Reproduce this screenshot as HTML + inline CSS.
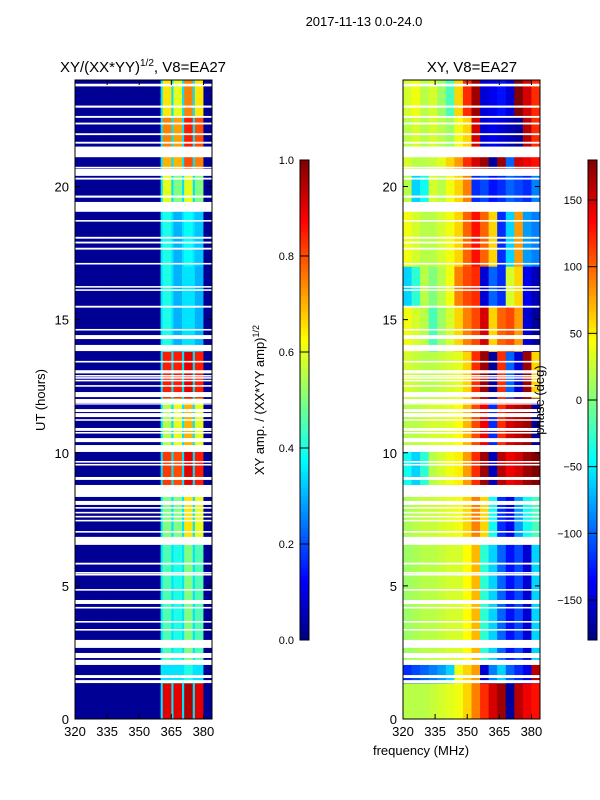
<!DOCTYPE html>
<html><head><meta charset="utf-8">
<style>
html,body{margin:0;padding:0;background:#fff;}
svg{display:block;font-family:"Liberation Sans","DejaVu Sans",sans-serif;}
</style></head>
<body>
<svg id="fig" width="600" height="800" viewBox="0 0 600 800">
  <text x="364" y="26" font-size="13" text-anchor="middle">2017-11-13 0.0-24.0</text>
  <text x="143" y="72" font-size="15" text-anchor="middle">XY/(XX*YY)<tspan font-size="10" dy="-6">1/2</tspan><tspan dy="6">, V8=EA27</tspan></text>
  <text x="472" y="72" font-size="15" text-anchor="middle">XY, V8=EA27</text>
  <text transform="translate(45,400) rotate(-90)" font-size="13" text-anchor="middle">UT (hours)</text>
  <text x="421" y="755" font-size="13" text-anchor="middle">frequency (MHz)</text>
  <text transform="translate(264,400) rotate(-90)" font-size="13" text-anchor="middle">XY amp. / (XX*YY amp)<tspan font-size="9" dy="-5">1/2</tspan></text>
  <g id="left"></g>
  <g id="right"></g>
  <g id="axes"></g>
  <text transform="translate(544,400) rotate(-90)" font-size="13" text-anchor="middle">phase (deg)</text>
</svg>
<script>
// ---- data ----
const freqTicks = [320, 335, 350, 365, 380];
const timeTicks = [0, 5, 10, 15, 20];
// flagged (blank) time intervals, hours [start, end]
const flagStart = [23.76,22.96,22.58,22.33,21.93,21.61,21.1,20.68,20.4,20.26,19.58,19.05,18.68,18.04,17.86,17.63,17.07,16.2,16.08,15.45,14.59,14.27,13.82,13.39,12.98,12.86,12.78,12.68,12.48,12.09,11.87,11.81,11.53,11.34,11.2,10.82,10.72,10.4,10.03,9.63,9.52,8.98,8.34,8.04,7.9,7.72,7.57,7.42,7.0,6.54,5.8,5.46,5.39,4.82,4.32,4.15,3.62,3.32,2.67,2.29,2.03,1.54,1.35];
const flagEnd   = [23.86,23.04,22.65,22.4,22.0,21.68,21.5,20.74,20.66,20.33,19.66,19.42,18.74,18.11,17.93,17.7,17.13,16.26,16.14,15.52,14.65,14.42,14.05,13.45,13.1,12.92,12.84,12.74,12.54,12.28,12.02,11.86,11.64,11.49,11.26,10.93,10.78,10.55,10.29,9.69,9.58,9.09,8.79,8.19,7.96,7.78,7.63,7.48,7.06,6.84,5.87,5.52,5.45,4.88,4.47,4.21,3.68,3.38,2.97,2.48,2.22,1.65,1.46];
// time segments (hours) shared by both panels
const segStart = [0,1.35,2.2,6.7,8.5,10.2,12.05,13.8,15.5,17.0,19.2,20.5,21.3,22.6];
const segEnd   = [1.35,2.2,6.7,8.5,10.2,12.05,13.8,15.5,17.0,19.2,20.5,21.3,22.6,24];
// amplitude levels for the four active sub-bands per segment
const ampBand0 = [0.9,0.35,0.45,0.5,0.82,0.55,0.85,0.4,0.4,0.4,0.6,0.7,0.75,0.65];
const ampBand1 = [0.9,0.35,0.4,0.5,0.8,0.6,0.85,0.3,0.3,0.3,0.5,0.7,0.72,0.6];
const ampBand2 = [0.95,0.4,0.5,0.65,0.9,0.7,0.9,0.35,0.35,0.38,0.6,0.8,0.85,0.75];
const ampBand3 = [0.9,0.35,0.45,0.6,0.85,0.6,0.85,0.3,0.3,0.32,0.5,0.75,0.8,0.65];
const ampBackground = 0.02;
const ampSeparator = 0.35;
// channel map (1 MHz channels 320..383): -1 background, 0-3 band, 9 separator
const chanBand = [
 -1,-1,-1,-1,-1,-1,-1,-1,-1,-1,-1,-1,-1,-1,-1,-1,-1,-1,-1,-1,
 -1,-1,-1,-1,-1,-1,-1,-1,-1,-1,-1,-1,-1,-1,-1,-1,-1,-1,-1,-1,
 9,0,0,0,0,9,1,1,1,1,9,2,2,2,2,9,3,3,3,3,-1,-1,-1,-1];
// phase (deg) per segment, 16 channels of 4 MHz from 320 MHz
const phaseRows = [
 [20,20,20,25,30,35,40,60,90,120,150,170,-170,160,140,130],
 [-120,-110,-100,-90,-80,-60,40,60,80,-150,-90,-60,-100,-120,-140,160],
 [10,15,20,20,25,30,30,45,70,-30,-60,-100,-130,-110,-150,-60],
 [15,20,25,25,30,35,40,60,90,60,-40,-120,-140,-80,-40,-20],
 [-40,-60,-30,20,30,40,50,80,120,170,-160,160,140,150,170,180],
 [20,20,25,30,30,35,45,70,110,140,-120,120,150,160,170,-170],
 [30,25,20,20,25,30,35,60,120,170,-170,120,-100,-150,170,60],
 [40,30,20,-20,10,30,60,90,110,150,60,100,110,80,-150,-170],
 [-60,-30,20,0,20,40,90,110,120,-150,-100,-120,30,60,-140,-160],
 [40,30,20,20,30,40,60,100,130,100,60,-120,-60,80,-80,-90],
 [20,-60,-40,30,20,40,60,90,-120,-110,-130,-120,-100,-110,-120,-90],
 [30,20,20,25,35,60,80,120,150,170,-170,170,-100,150,140,130],
 [20,30,20,30,20,10,40,60,150,-150,-140,-150,-160,-170,160,120],
 [30,40,20,30,10,-20,60,120,170,-150,-140,-130,-150,180,150,120]];
const ampTicks = [0.0,0.2,0.4,0.6,0.8,1.0];
const phaseTicks = [-150,-100,-50,0,50,100,150];

// ---- geometry ----
const NS='http://www.w3.org/2000/svg';
const PY0=80, PY1=719;
const LX0=75, RX0=403, PW=137;
function xs(f,x0){return x0+(f-320)/64*PW;}
function ys(h){return PY1-(h/24)*(PY1-PY0);}
function jet(v){v=Math.max(0,Math.min(1,v));
 const c=t=>Math.round(255*Math.max(0,Math.min(1,1.5-Math.abs(4*v-t))));
 return `rgb(${c(3)},${c(2)},${c(1)})`;}
function mk(tag,attrs,parent){const e=document.createElementNS(NS,tag);for(const k in attrs)e.setAttribute(k,attrs[k]);parent.appendChild(e);return e;}
const L=document.getElementById('left'), R=document.getElementById('right'), A=document.getElementById('axes');
const bands=[ampBand0,ampBand1,ampBand2,ampBand3];

segStart.forEach((s,i)=>{
  const y0=ys(segEnd[i]), y1=ys(s);
  chanBand.forEach((b,c)=>{
    const v = b<0?ampBackground:(b===9?ampSeparator:bands[b][i]);
    const r=mk('rect',{x:xs(320+c,LX0),y:y0,width:PW/64+0.4,height:y1-y0+0.3,fill:jet(v)},L);
    
    
  });
  phaseRows[i].forEach((p,c)=>{
    const r=mk('rect',{x:xs(320+4*c,RX0),y:y0,width:PW/16+0.4,height:y1-y0+0.3,fill:jet((p+180)/360)},R);
    
    
  });
});
[LX0,RX0].forEach(x0=>{
  flagStart.forEach((s,i)=>{
    const r=mk('rect',{x:x0,y:ys(flagEnd[i]),width:PW,height:ys(s)-ys(flagEnd[i]),fill:'#fff'},A);
    
    
  });
});
// axes frames + ticks
[LX0,RX0].forEach((x0,k)=>{
  const f=mk('rect',{x:x0,y:PY0,width:PW,height:PY1-PY0,fill:'none',stroke:'#000','stroke-width':1},A);
  
  
  freqTicks.forEach(t=>{
    const x=xs(t,x0);
    mk('line',{x1:x,x2:x,y1:PY1,y2:PY1-5,stroke:'#000'},A);
    mk('line',{x1:x,x2:x,y1:PY0,y2:PY0+5,stroke:'#000'},A);
    const tx=mk('text',{x:x,y:PY1+17,'font-size':13,'text-anchor':'middle'},A);
    tx.textContent=t;
    
    
  });
  timeTicks.forEach(t=>{
    const y=ys(t);
    mk('line',{x1:x0,x2:x0+5,y1:y,y2:y,stroke:'#000'},A);
    mk('line',{x1:x0+PW,x2:x0+PW-5,y1:y,y2:y,stroke:'#000'},A);
    const tx=mk('text',{x:x0-6,y:y+5,'font-size':13,'text-anchor':'end'},A);
    tx.textContent=t;
    
    
  });
});
// colorbars
function colorbar(x0,vals,toFrac,name){
  const CY0=160,CY1=640,W=9;
  for(let i=0;i<120;i++){
    const r=mk('rect',{x:x0,y:CY1-(i+1)*4,width:W,height:4.3,fill:jet((i+0.5)/120)},A);
    
    
  }
  const fr=mk('rect',{x:x0,y:CY0,width:W,height:CY1-CY0,fill:'none',stroke:'#000'},A);
  
  
  vals.forEach(v=>{
    const y=CY1-toFrac(v)*(CY1-CY0);
    mk('line',{x1:x0,x2:x0+W,y1:y,y2:y,stroke:'#000'},A);
    const tx=mk('text',{x:x0-6,y:y+4,'font-size':11,'text-anchor':'end'},A);
    tx.textContent=v;
    
    
  });
}
colorbar(300,ampTicks.map(v=>v.toFixed(1)),v=>parseFloat(v),'amp-colorbar');
colorbar(588,phaseTicks.map(v=>v<0?'\u2212'+(-v):String(v)),v=>(parseFloat(v.replace('\u2212','-'))+180)/360,'phase-colorbar');
</script>
</body></html>
